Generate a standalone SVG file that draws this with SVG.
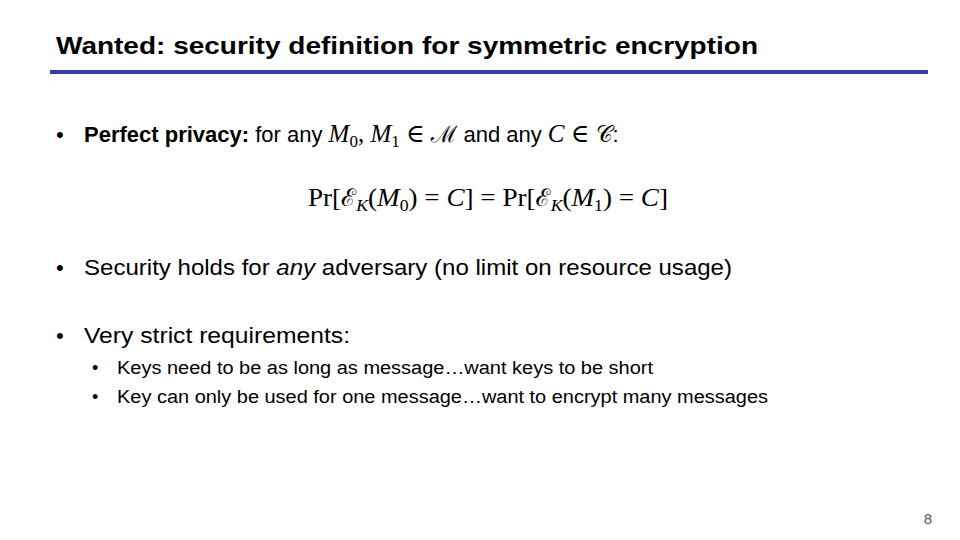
<svg xmlns="http://www.w3.org/2000/svg" width="960" height="540" viewBox="0 0 960 540">
<style>
.s{font-family:"Liberation Sans",Arial,sans-serif;fill:#000}
.m{font-family:"Liberation Serif","DejaVu Serif",serif;font-style:italic}
.r{font-family:"Liberation Serif","DejaVu Serif",serif;font-style:normal}
.sc{font-family:"DejaVu Serif","Noto Sans",serif;font-style:normal}
</style>
<rect width="960" height="540" fill="#fff"/>
<text class="s" x="56" y="54" font-size="24" font-weight="bold" textLength="702" lengthAdjust="spacingAndGlyphs">Wanted: security definition for symmetric encryption</text>
<rect x="50" y="70" width="878" height="4" fill="#3b3ba8"/>
<text class="s" x="56" y="142" font-size="22">•</text>
<text class="s" x="84" y="142" font-size="22"><tspan font-weight="bold">Perfect privacy:</tspan> for any <tspan class="m" font-size="25">M</tspan><tspan class="r" font-size="17" dy="5">0</tspan><tspan class="r" font-size="25" dy="-5">, </tspan><tspan class="m" font-size="25">M</tspan><tspan class="r" font-size="17" dy="5">1</tspan><tspan class="r" font-size="25" dy="-5"> ∈ </tspan><tspan class="sc" font-size="23">ℳ</tspan> and any <tspan class="m" font-size="25">C</tspan><tspan class="r" font-size="25"> ∈ </tspan><tspan class="sc" font-size="23">𝒞</tspan>:</text>
<text class="r" x="308" y="206" font-size="26" textLength="360" lengthAdjust="spacingAndGlyphs">Pr[<tspan class="sc" font-size="24">ℰ</tspan><tspan class="m" font-size="17" dy="5">K</tspan><tspan dy="-5">(</tspan><tspan class="m">M</tspan><tspan font-size="17" dy="5">0</tspan><tspan dy="-5">) = </tspan><tspan class="m">C</tspan>] = Pr[<tspan class="sc" font-size="24">ℰ</tspan><tspan class="m" font-size="17" dy="5">K</tspan><tspan dy="-5">(</tspan><tspan class="m">M</tspan><tspan font-size="17" dy="5">1</tspan><tspan dy="-5">) = </tspan><tspan class="m">C</tspan>]</text>
<text class="s" x="56" y="275" font-size="22">•</text>
<text class="s" x="84" y="275" font-size="22" textLength="648" lengthAdjust="spacingAndGlyphs">Security holds for <tspan font-style="italic">any</tspan> adversary (no limit on resource usage)</text>
<text class="s" x="56" y="343" font-size="22">•</text>
<text class="s" x="84" y="343" font-size="22" textLength="266" lengthAdjust="spacingAndGlyphs">Very strict requirements:</text>
<text class="s" x="92" y="374" font-size="18">•</text>
<text class="s" x="117" y="374" font-size="18" textLength="536" lengthAdjust="spacingAndGlyphs">Keys need to be as long as message…want keys to be short</text>
<text class="s" x="92" y="403" font-size="18">•</text>
<text class="s" x="117" y="403" font-size="18" textLength="651" lengthAdjust="spacingAndGlyphs">Key can only be used for one message…want to encrypt many messages</text>
<text class="s" x="932" y="524" font-size="15" text-anchor="end" style="fill:#555">8</text>
</svg>
